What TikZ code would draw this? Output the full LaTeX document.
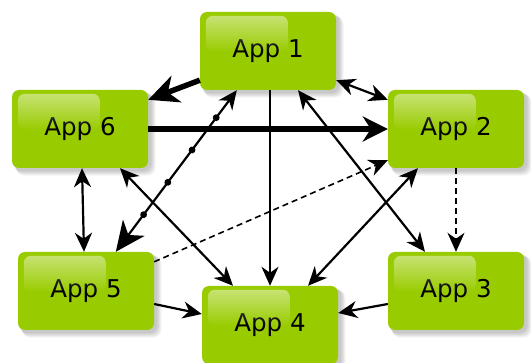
\documentclass[tikz,border=0pt]{standalone}
\usepackage{fontspec}
\setmainfont{DejaVu Sans}
\usetikzlibrary{arrows.meta,fadings,decorations.markings,backgrounds}
\definecolor{appgreen}{HTML}{99CC00}
\tikzfading[name=glossfade, top color=transparent!55, bottom color=transparent!100]
\begin{document}
\begin{tikzpicture}[x=1pt,y=1pt,
  app/.style={fill=appgreen, rounded corners=7pt, minimum width=136pt, minimum height=78pt,
    inner sep=0pt, font=\fontsize{24.5}{28}\selectfont},
  con/.style={line width=2.2pt, -{Stealth[length=19pt,width=17pt,inset=6pt]}},
  bicon/.style={line width=2.2pt, {Stealth[length=19pt,width=17pt,inset=6pt]}-{Stealth[length=19pt,width=17pt,inset=6pt]}},
  thickcon/.style={line width=5.5pt, -{Stealth[length=25pt,width=25pt,inset=8pt]}},
  dashcon/.style={line width=1.6pt, dash pattern=on 6pt off 4pt, -{Stealth[length=19pt,width=17pt,inset=6pt]}},
  dotted line/.style={postaction={decorate}, decoration={markings,
    mark=at position 0.17 with {\fill (0,0) circle (3.4pt);},
    mark=at position 0.37 with {\fill (0,0) circle (3.4pt);},
    mark=at position 0.57 with {\fill (0,0) circle (3.4pt);},
    mark=at position 0.77 with {\fill (0,0) circle (3.4pt);}}}
]
\useasboundingbox (0,0) rectangle (531,-363);
\node[app] (a1) at (268,-51) {App 1};
\node[app] (a6) at (80,-129) {App 6};
\node[app] (a2) at (456,-129) {App 2};
\node[app] (a5) at (86,-291) {App 5};
\node[app] (a3) at (456,-291) {App 3};
\node[app] (a4) at (270,-325) {App 4};
% soft shadows
\begin{pgfonlayer}{background}
\foreach \n in {a1,a6,a2,a5,a3,a4}{
  \foreach \s in {1,2,...,6}{
    \fill[black, opacity=0.04, rounded corners=8pt]
      ([shift={(1pt+0.6*\s pt,-1pt-0.6*\s pt)}]\n.north west) rectangle ([shift={(2pt+0.9*\s pt,-2pt-0.9*\s pt)}]\n.south east);
  }
}
\end{pgfonlayer}
% gloss
\foreach \n in {a1,a6,a2,a5,a3,a4}{
  \fill[white, path fading=glossfade, rounded corners=7pt]
    ([xshift=6pt,yshift=-4pt]\n.north west) rectangle ([xshift=88pt,yshift=-40pt]\n.north west);
}
% connectors
\draw[line width=5.5pt, -{Stealth[length=30pt,width=28pt,inset=9pt]}] ([yshift=10pt]a1.south west) -- ([yshift=-10pt]a6.north east);
\draw[bicon] ([yshift=10pt]a1.south east) -- ([yshift=-10pt]a2.north west);
\draw[thickcon] (a6.east) -- (a2.west);
\draw[line width=2.2pt, dotted line, {Stealth[length=19pt,width=17pt,inset=6pt]}-{Stealth[length=30pt,width=27pt,inset=9pt]}]
  ([xshift=37pt]a1.south west) -- ([xshift=98pt]a5.north west);
\draw[line width=1.7pt, -{Stealth[length=19pt,width=17pt,inset=6pt]}] ([xshift=2pt]a1.south) -- (a4.north);
\draw[bicon] ([xshift=30pt]a1.south) -- ([xshift=-31pt]a3.north);
\draw[dashcon] (a2.south) -- (a3.north);
\draw[dashcon] ([yshift=-10pt]a5.north east) -- ([yshift=8pt]a2.south west);
\draw[bicon] ([xshift=-38pt]a2.south) -- ([xshift=38pt]a4.north);
\draw[bicon] ([xshift=40pt]a6.south) -- ([xshift=-37pt]a4.north);
\draw[bicon] ([xshift=2pt]a6.south) -- ([xshift=-2pt]a5.north);
\draw[con] ([yshift=-13pt]a5.east) -- ([yshift=11pt]a4.west);
\draw[con] ([yshift=-13pt]a3.west) -- ([yshift=12pt]a4.east);
\end{tikzpicture}
\end{document}
